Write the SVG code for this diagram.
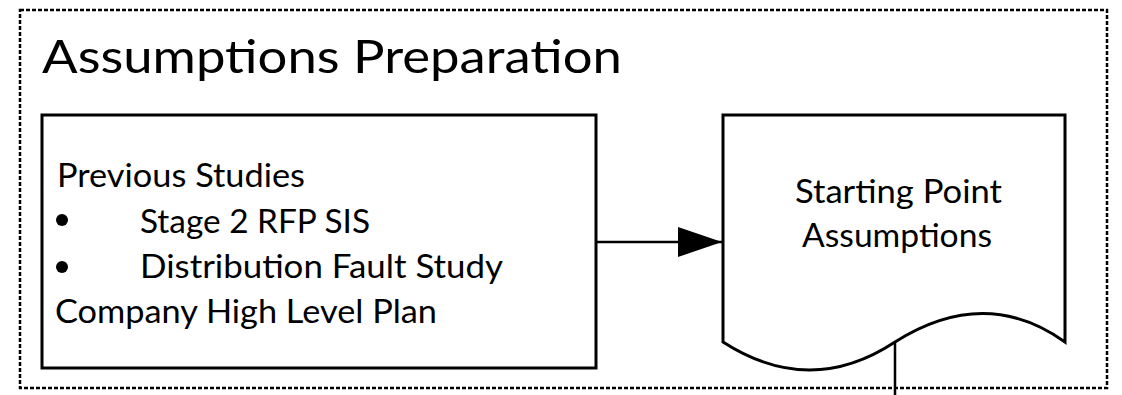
<svg xmlns="http://www.w3.org/2000/svg" width="1122" height="395" viewBox="0 0 1122 395">
  <style>
    .frame { fill: none; stroke: #000; stroke-width: 2.5; stroke-dasharray: 4 2; }
    .shape { fill: #fff; stroke: #000; stroke-width: 3; }
    .edge { fill: none; stroke: #000; stroke-width: 2.5; }
    .txt { font-family: Lato, "Open Sans", "Liberation Sans", sans-serif; fill: #000; }
    .body { font-size: 33.5px; }
    .title { font-size: 47px; }
  </style>
  <defs>
    <marker id="arrowhead" markerUnits="userSpaceOnUse" markerWidth="46" markerHeight="32" refX="44" refY="15" orient="auto">
      <path d="M0,0 L44,15 L0,30 Z" fill="#000"/>
    </marker>
  </defs>

  <!-- swimlane container -->
  <g id="lane">
    <rect class="frame" x="20" y="10" width="1087" height="378"/>
    <text class="txt title" x="42" y="73" textLength="580" lengthAdjust="spacingAndGlyphs">Assumptions Preparation</text>
  </g>

  <!-- connectors -->
  <g id="connectors">
    <line class="edge" x1="597" y1="242" x2="722" y2="242" marker-end="url(#arrowhead)"/>
    <line class="edge" x1="895" y1="342" x2="895" y2="395"/>
  </g>

  <!-- input sources -->
  <g id="inputs">
    <rect class="shape" x="42" y="115" width="554" height="253"/>
    <text class="txt body" x="57" y="187" textLength="248" lengthAdjust="spacingAndGlyphs">Previous Studies</text>
    <circle cx="62" cy="220" r="6" fill="#000"/>
    <text class="txt body" x="140" y="233" textLength="230" lengthAdjust="spacingAndGlyphs">Stage 2 RFP SIS</text>
    <circle cx="62" cy="267" r="6" fill="#000"/>
    <text class="txt body" x="140" y="278" textLength="363" lengthAdjust="spacingAndGlyphs">Distribution Fault Study</text>
    <text class="txt body" x="55" y="323" textLength="382" lengthAdjust="spacingAndGlyphs">Company High Level Plan</text>
  </g>

  <!-- output document -->
  <g id="starting-point">
    <path class="shape" d="M723,115 H1065 V342 Q985,285 895,342 Q810,398 723,342 Z"/>
    <text class="txt body" x="898.5" y="203" text-anchor="middle" textLength="207" lengthAdjust="spacingAndGlyphs">Starting Point</text>
    <text class="txt body" x="897" y="247" text-anchor="middle" textLength="190" lengthAdjust="spacingAndGlyphs">Assumptions</text>
  </g>
</svg>
